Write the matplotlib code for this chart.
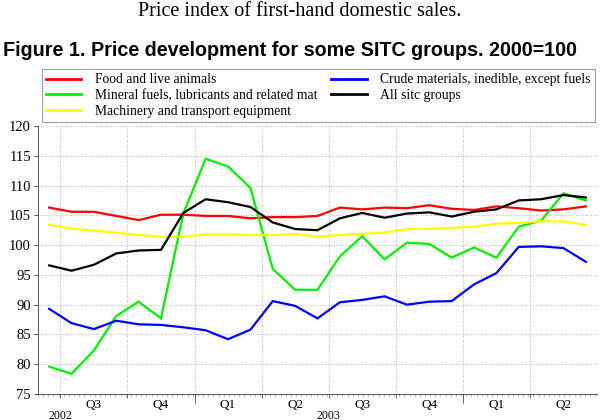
import matplotlib
matplotlib.use("Agg")
import matplotlib.pyplot as plt
import numpy as np

months = list(range(25))
food = [106.3, 105.6, 105.6, 104.9, 104.2, 105.1, 105.1, 104.9, 104.9, 104.5, 104.7, 104.7, 104.9,
        106.3, 106.0, 106.3, 106.2, 106.7, 106.1, 105.9, 106.5, 106.2, 105.8, 106.0, 106.5]
mineral = [79.6, 78.4, 82.3, 88.1, 90.5, 87.7, 105.3, 114.5, 113.2, 109.6, 96.0, 92.5, 92.5,
           98.1, 101.5, 97.6, 100.4, 100.2, 97.9, 99.6, 97.9, 103.1, 104.1, 108.7, 107.5]
machinery = [103.4, 102.8, 102.4, 102.1, 101.7, 101.4, 101.4, 101.8, 101.8, 101.7, 101.7, 101.9, 101.4,
             101.7, 101.9, 102.1, 102.7, 102.7, 102.9, 103.1, 103.6, 103.7, 104.0, 104.0, 103.4]
crude = [89.3, 86.9, 85.9, 87.3, 86.7, 86.6, 86.2, 85.7, 84.2, 85.8, 90.6, 89.8, 87.7,
         90.4, 90.8, 91.4, 90.0, 90.5, 90.6, 93.4, 95.3, 99.7, 99.8, 99.5, 97.2]
all_sitc = [96.6, 95.7, 96.7, 98.6, 99.1, 99.2, 105.4, 107.7, 107.2, 106.4, 103.8, 102.7, 102.5,
            104.5, 105.4, 104.6, 105.3, 105.5, 104.8, 105.6, 106.0, 107.5, 107.7, 108.4, 108.0]

quarter_labels = ["Q3", "Q4", "Q1", "Q2", "Q3", "Q4", "Q1", "Q2"]
quarter_pos = [2, 5, 8, 11, 14, 17, 20, 23]
year_labels = ["2002", "2003"]
year_pos = [0.5, 12.5]
yticks = [75, 80, 85, 90, 95, 100, 105, 110, 115, 120]

serif = ["Liberation Serif", "DejaVu Serif"]

fig = plt.figure(figsize=(6, 4.2), dpi=100)
fig.text(0.5, 1 - 12 / 420, "Price index of first-hand domestic sales.", ha="center", va="center",
         family=serif, fontsize=14.5)
fig.text(3 / 600, 1 - 50 / 420, "Figure 1. Price development for some SITC groups. 2000=100",
         ha="left", va="center", family="Liberation Sans", fontweight="bold", fontsize=14.2)

ax = fig.add_axes([38 / 600, 1 - 394 / 420, (597 - 38) / 600, (394 - 126) / 420])
series = [
    ("Food and live animals", food, "#ff0000"),
    ("Mineral fuels, lubricants and related mat", mineral, "#00ee00"),
    ("Machinery and transport equipment", machinery, "#ffff00"),
    ("Crude materials, inedible, except fuels", crude, "#0000ff"),
    ("All sitc groups", all_sitc, "#000000"),
]
handles = []
for name, vals, col in series:
    h, = ax.plot(months, vals, color=col, lw=1.6, label=name, solid_joinstyle="miter")
    handles.append(h)

ax.set_xlim(-0.5, 24.5)
ax.set_ylim(75, 120)
ax.set_yticks(yticks)
ax.set_yticklabels([str(v) for v in yticks], family=serif, fontsize=10.5)
ax.tick_params(axis="y", direction="out", length=3, width=0.6, pad=2, colors="#333333",
               labelcolor="black")

qb = np.arange(0.5, 24.5, 3)
ax.set_xticks(qb)
ax.set_xticklabels([])
ax.tick_params(axis="x", which="major", direction="out", length=3, width=0.6, colors="#555555")
ax.set_xticks(np.arange(-0.5, 24.5, 3 / 13), minor=True)
ax.tick_params(axis="x", which="minor", direction="out", length=1.5, width=0.5, colors="#777777")
for xb in [6.5, 18.5]:
    ax.plot([xb, xb], [0, -0.035], transform=ax.get_xaxis_transform(), clip_on=False,
            color="#555555", lw=0.6)
for p, lab in zip(quarter_pos, quarter_labels):
    ax.text(p, -0.018, lab, transform=ax.get_xaxis_transform(), ha="center", va="top",
            family=serif, fontsize=9.5)
for p, lab in zip(year_pos, year_labels):
    ax.text(p, -0.058, lab, transform=ax.get_xaxis_transform(), ha="center", va="top",
            family=serif, fontsize=8.5)

for y in yticks[1:]:
    ax.axhline(y, color="#999999", lw=0.6, ls=(0, (1, 2)), zorder=0)
for xb in qb:
    ax.axvline(xb, color="#999999", lw=0.6, ls=(0, (1, 2)), zorder=0)

for side in ["top", "right"]:
    ax.spines[side].set_visible(False)
for side in ["left", "bottom"]:
    ax.spines[side].set_color("#555555")
    ax.spines[side].set_linewidth(0.7)
ax.plot([1, 1], [0, 1], transform=ax.transAxes, color="#999999", lw=0.6, ls=(0, (1, 2)))

leg = fig.legend(handles=handles, loc="lower left",
                 bbox_to_anchor=(42 / 600, 1 - 122 / 420, (595 - 42) / 600, (122 - 67) / 420),
                 mode="expand", ncol=2, frameon=True, fancybox=False, edgecolor="#888888",
                 prop={"family": serif, "size": 9.8}, handlelength=2.6, handletextpad=1.0,
                 labelspacing=0.2, borderpad=0.3, borderaxespad=0)
leg.get_frame().set_linewidth(0.8)
for l in leg.get_lines():
    l.set_linewidth(2)

fig.savefig("out.png", dpi=100)
